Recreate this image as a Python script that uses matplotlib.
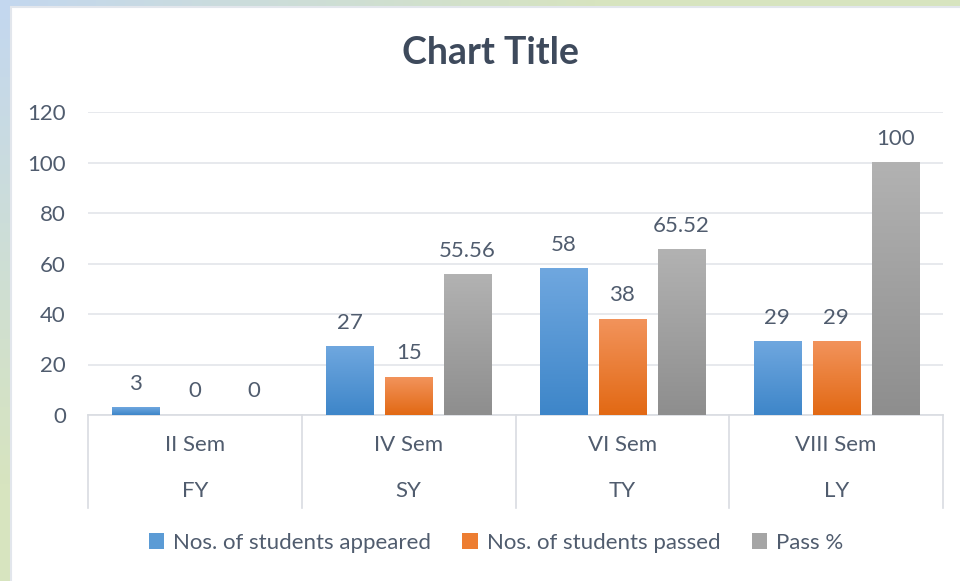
import numpy as np
import matplotlib
matplotlib.use("Agg")
import matplotlib.pyplot as plt
from matplotlib.colors import LinearSegmentedColormap
from matplotlib.patches import Rectangle, Patch
import matplotlib.transforms as mtransforms

plt.rcParams['font.family'] = ['Lato', 'DejaVu Sans']

# data
semesters = ["II Sem", "IV Sem", "VI Sem", "VIII Sem"]
years = ["FY", "SY", "TY", "LY"]
appeared = [3, 27, 58, 29]
passed = [0, 15, 38, 29]
pass_pct = [0, 55.56, 65.52, 100]
series_names = ["Nos. of students appeared", "Nos. of students passed", "Pass %"]

# colours (top, bottom) of each bar gradient
grads = [("#6FA7DF", "#3E86C9"), ("#F2935B", "#E26914"), ("#B2B2B2", "#8E8E8E")]
solid = ["#5B9BD5", "#ED7D31", "#A5A5A5"]
text_col = "#505C6E"
fs = 16

W, H = 960, 581
fig = plt.figure(figsize=(W / 100, H / 100), dpi=100)

# background gradient frame
bg = fig.add_axes([0, 0, 1, 1], zorder=0)
bg.set_axis_off()
yy, xx = np.mgrid[0:1:60j, 0:1:100j]
t = np.clip(xx * 1.6 + yy * 1.2, 0, 1)
c1 = np.array(matplotlib.colors.to_rgb("#C3D7EF"))
c2 = np.array(matplotlib.colors.to_rgb("#D7E4BF"))
img = c1[None, None, :] * (1 - t[..., None]) + c2[None, None, :] * t[..., None]
bg.imshow(img, extent=[0, 1, 0, 1], aspect="auto", origin="upper")
bg.set_xlim(0, 1)
bg.set_ylim(0, 1)
bg.add_patch(Rectangle((11 / W, -0.01), 1, (H - 7) / H + 0.01, facecolor="white",
                       edgecolor="#E2E6EC", linewidth=1.5))

ax = fig.add_axes([88 / W, 166 / H, 855 / W, 303 / H], zorder=1)
ax.patch.set_alpha(0)

x = np.arange(len(semesters))
width = 0.22
step = 0.276
all_series = [appeared, passed, pass_pct]
for i, vals in enumerate(all_series):
    pos = x + (i - 1) * step
    bars = ax.bar(pos, vals, width, color=solid[i], edgecolor="none", zorder=2,
                  label=series_names[i])
    cmap = LinearSegmentedColormap.from_list("g%d" % i, [grads[i][1], grads[i][0]])
    for b, v in zip(bars, vals):
        if v > 0:
            ax.imshow(np.linspace(1, 0, 100).reshape(-1, 1), cmap=cmap,
                      extent=[b.get_x(), b.get_x() + b.get_width(), 0, v],
                      aspect="auto", zorder=3, vmin=0, vmax=1)
        ax.annotate(f"{v:g}", (b.get_x() + b.get_width() / 2, v), xytext=(0, 10),
                    textcoords="offset points", ha="center", va="bottom",
                    fontsize=fs, color=text_col)

ax.set_xlim(-0.5, 3.5)
ax.set_ylim(0, 120)
ax.set_yticks(range(0, 121, 20))
ax.grid(axis="y", color="#E3E5EA", linewidth=1.2, zorder=0)
ax.set_axisbelow(True)
for s in ["top", "right", "left"]:
    ax.spines[s].set_visible(False)
ax.spines["bottom"].set_color("#D9DCE1")
ax.spines["bottom"].set_linewidth(1.2)
ax.tick_params(axis="both", length=0, labelsize=fs, labelcolor=text_col)
ax.tick_params(axis="y", pad=16)
ax.set_xticks([])

# two-level category axis
trans = mtransforms.blended_transform_factory(ax.transData, ax.transAxes)
for b in np.arange(-0.5, 4, 1):
    ax.plot([b, b], [0, -0.307], transform=trans, color="#D9DCE1", lw=1.2, clip_on=False)
for i in range(len(semesters)):
    ax.text(x[i], -0.099, semesters[i], transform=trans, ha="center", va="center",
            fontsize=fs, color=text_col)
    ax.text(x[i], -0.251, years[i], transform=trans, ha="center", va="center",
            fontsize=fs, color=text_col)

fig.text(490 / W, 1 - 53 / H, "Chart Title", ha="center", va="center", fontsize=27,
         fontweight="bold", color="#3E4A5C")

handles = [Patch(facecolor=solid[i], label=series_names[i]) for i in range(3)]
fig.legend(handles=handles, loc="center", bbox_to_anchor=(496 / W, 1 - 543 / H), ncol=3,
           frameon=False, fontsize=fs, handlelength=0.7, handleheight=0.7,
           handletextpad=0.4, columnspacing=1.4, labelcolor=text_col)

fig.savefig("out.png", dpi=100)
plt.close(fig)
